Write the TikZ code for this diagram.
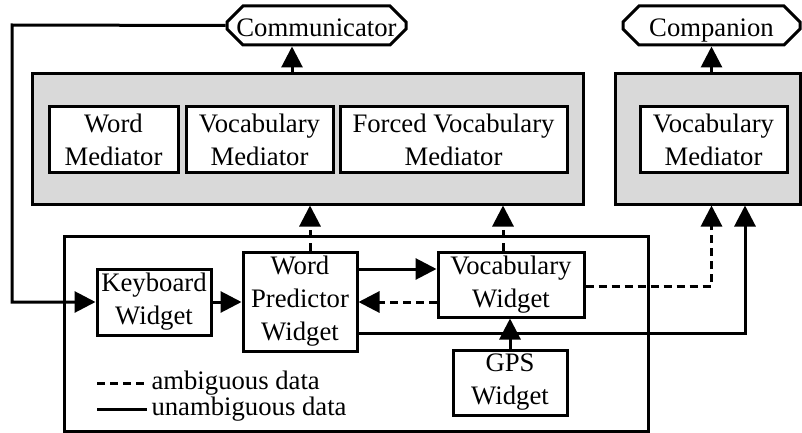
\documentclass[tikz,border=0pt]{standalone}
\usepackage{fontspec}
\setmainfont{Liberation Serif}
\usetikzlibrary{arrows.meta,shapes.misc}

\begin{document}
\begin{tikzpicture}[x=1pt,y=-1pt,line width=3pt,
  font=\fontsize{26.7}{33}\selectfont,
  box/.style={draw,fill=white,align=center,inner sep=0pt},
  host/.style={draw,fill=black!15,inner sep=0pt},
  app/.style={draw,fill=white,chamfered rectangle,chamfered rectangle xsep=8pt,chamfered rectangle ysep=8pt,inner sep=0pt,text height=23pt,text depth=0pt},
  arr/.style={-{Triangle[length=21pt,width=21pt]}},
  amb/.style={dash pattern=on 8pt off 5pt}]

\useasboundingbox (0,0) rectangle (802,433);

% communicator side
\node[host,minimum width=551pt,minimum height=130pt] (commbox) at (307.5,139) {};
\node[box,minimum width=129pt,minimum height=65pt] (wmed) at (113.5,139.5) {Word\\Mediator};
\node[box,minimum width=147pt,minimum height=65pt] (vmed) at (259.5,139.5) {Vocabulary\\Mediator};
\node[box,minimum width=227pt,minimum height=65pt] (fvmed) at (453.5,139.5) {Forced Vocabulary\\Mediator};
\node[app,minimum width=179pt,minimum height=35pt] (comm) at (316.5,25.5) {Communicator};

% companion side
\node[host,minimum width=185pt,minimum height=130pt] (compbox) at (707.5,139) {};
\node[box,minimum width=147pt,minimum height=65pt] (cvmed) at (713.5,139.5) {Vocabulary\\Mediator};
\node[app,minimum width=177pt,minimum height=35pt] (comp) at (711.5,25.5) {Companion};

% widgets
\node[draw,minimum width=584pt,minimum height=195pt] (frame) at (356,333.5) {};
\node[box,minimum width=114pt,minimum height=66pt] (kbd) at (154,302) {Keyboard\\Widget};
\node[box,minimum width=114pt,minimum height=99pt] (wpred) at (300,301.5) {Word\\Predictor\\Widget};
\node[box,minimum width=146pt,minimum height=65pt] (vwid) at (511,284.5) {Vocabulary\\Widget};
\node[box,minimum width=114pt,minimum height=65pt] (gps) at (510,382.5) {GPS\\Widget};

% legend
\node[anchor=west,inner sep=0pt] (ambig) at (150,383) {ambiguous data};
\node[anchor=west,inner sep=0pt] (unamb) at (150,409) {unambiguous data};
\draw[amb] ([xshift=-53pt]ambig.west) -- ([xshift=-3pt]ambig.west);
\draw ([xshift=-53pt]unamb.west) -- ([xshift=-3pt]unamb.west);

% connectors
\coordinate (fb) at (12,25);
\draw[arr] ([xshift=-24.5pt]comm.south |- commbox.north) -- ([xshift=-24.5pt]comm.south);
\draw[arr] (compbox.north -| comp.south) -- (comp.south);
\draw[arr] (comm.west) -- (fb) |- (kbd.west);
\draw[arr] (kbd.east) -- (kbd.east -| wpred.west);
\draw[arr] ([yshift=32.5pt]wpred.east) -- ([yshift=32.5pt]wpred.east -| vwid.west);
\draw[amb,arr] ([yshift=-17.5pt]vwid.west) -- ([yshift=-17.5pt]vwid.west -| wpred.east);
\draw[amb,arr] ([xshift=10pt]wpred.north) -- ([xshift=10pt]wpred.north |- commbox.south);
\draw[amb,arr] ([xshift=-8pt]vwid.north) -- ([xshift=-8pt]vwid.north |- commbox.south);
\draw[amb,arr] ([yshift=-1.5pt]vwid.east) -| (compbox.south -| comp.south);
\draw[arr] ([yshift=-31.5pt]wpred.east) -| ([xshift=37.5pt]compbox.south);
\draw[arr] (gps.north) -- (gps.north |- vwid.south);

\end{tikzpicture}
\end{document}
